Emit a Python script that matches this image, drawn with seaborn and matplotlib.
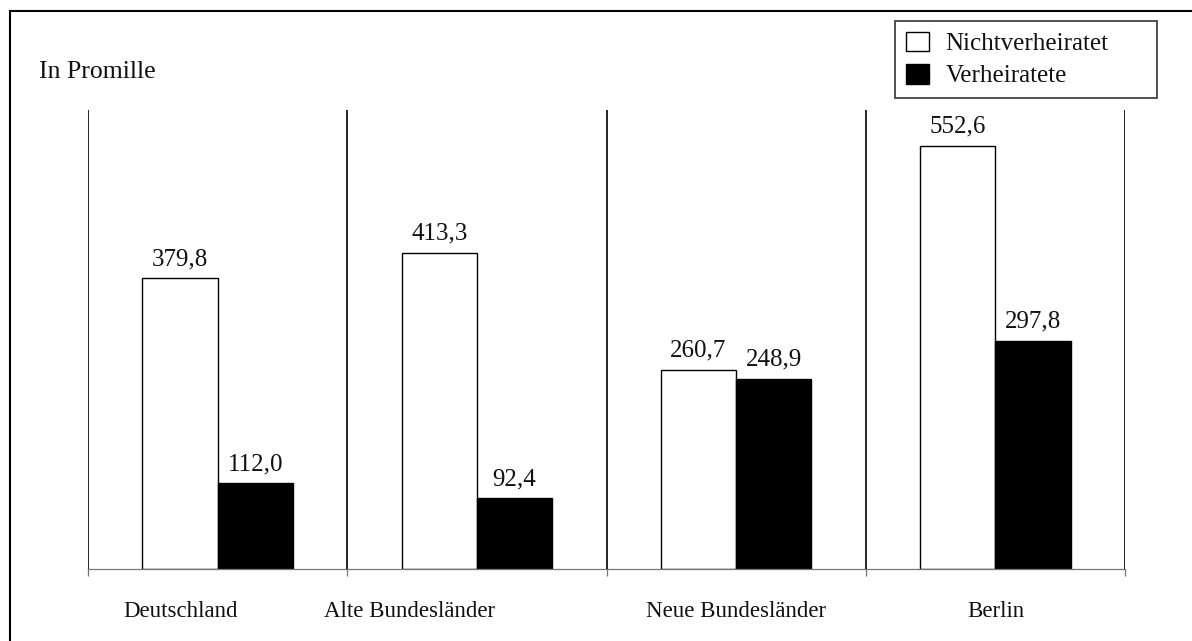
import numpy as np
import pandas as pd
import matplotlib
matplotlib.use("Agg")
import matplotlib.pyplot as plt
from matplotlib.lines import Line2D
from matplotlib.transforms import ScaledTranslation
import seaborn as sns

regions = ["Deutschland", "Alte Bundesländer", "Neue Bundesländer", "Berlin"]
statuses = ["Nichtverheiratet", "Verheiratete"]
nicht_values = [379.8, 413.3, 260.7, 552.6]
verh_values = [112.0, 92.4, 248.9, 297.8]
unit_label = "In Promille"

df = pd.DataFrame({
    "region": regions * 2,
    "status": [statuses[0]] * len(regions) + [statuses[1]] * len(regions),
    "value": nicht_values + verh_values,
})

sns.set_theme(style="white")
plt.rcParams["font.family"] = ["Liberation Serif", "DejaVu Serif"]

W, H = 1192, 641
fig = plt.figure(figsize=(W / 100, H / 100), dpi=100)
ax = fig.add_axes([88 / W, 1 - 569 / H, (1125 - 88) / W, (569 - 110) / H])

sns.barplot(data=df, x="region", y="value", hue="status", order=regions,
            hue_order=statuses,
            palette={statuses[0]: "white", statuses[1]: "black"},
            edgecolor="black", linewidth=1.0, width=0.58, ax=ax,
            errorbar=None, saturation=1)

handles, labels = ax.get_legend_handles_labels()
if ax.get_legend() is not None:
    ax.get_legend().remove()

for cont in ax.containers:
    vals = [b.get_height() for b in cont]
    ax.bar_label(cont, labels=[f"{v:.1f}".replace(".", ",") for v in vals],
                 padding=6, fontsize=18, color="#111111")

ax.set_xlim(-0.5, len(regions) - 0.5)
ax.set_ylim(0, 600)
seps = np.arange(len(regions) + 1) - 0.5
ax.vlines(seps, 0, 600, color="black", linewidth=1.2, zorder=3)

for s in ["top", "left", "right"]:
    ax.spines[s].set_visible(False)
ax.spines["bottom"].set_color("#777777")
ax.spines["bottom"].set_linewidth(0.9)

ax.set_yticks([])
ax.set_xticks(range(len(regions)))
ax.set_xticklabels(regions, fontsize=16.5, color="#111111")
ax.set_xticks(seps, minor=True)
ax.tick_params(axis="x", which="major", length=0, pad=23)
ax.tick_params(axis="x", which="minor", length=5, width=0.9, color="#777777",
               direction="out", bottom=True)
ax.set_xlabel("")
ax.set_ylabel("")

# label offsets (pixels) as in the reference
label_dx = [-37, -67, 0, 0]
for lbl, dx in zip(ax.get_xticklabels(), label_dx):
    lbl.set_transform(lbl.get_transform() + ScaledTranslation(dx / 100, 0, fig.dpi_scale_trans))

fig.text(39 / W, 1 - 72 / H, unit_label, fontsize=18.5, va="center", ha="left",
         color="#111111")

leg = fig.legend(handles, labels, loc="upper left",
                 bbox_to_anchor=(895 / W, 1 - 97 / H, 262 / W, 76 / H),
                 mode="expand", fontsize=18,
                 frameon=True, fancybox=False, edgecolor="black",
                 handlelength=0.95, handleheight=0.85, handletextpad=0.65,
                 labelspacing=0.35, borderpad=0.42, borderaxespad=0)
leg.get_frame().set_linewidth(1.2)
for t in leg.get_texts():
    t.set_color("#111111")

fig.add_artist(Line2D([9.5 / W, 9.5 / W], [0, 1 - 10.5 / H],
                      transform=fig.transFigure, color="black", linewidth=1.5))
fig.add_artist(Line2D([9.5 / W, 1], [1 - 10.5 / H, 1 - 10.5 / H],
                      transform=fig.transFigure, color="black", linewidth=1.5))

fig.savefig("out.png", dpi=100)
